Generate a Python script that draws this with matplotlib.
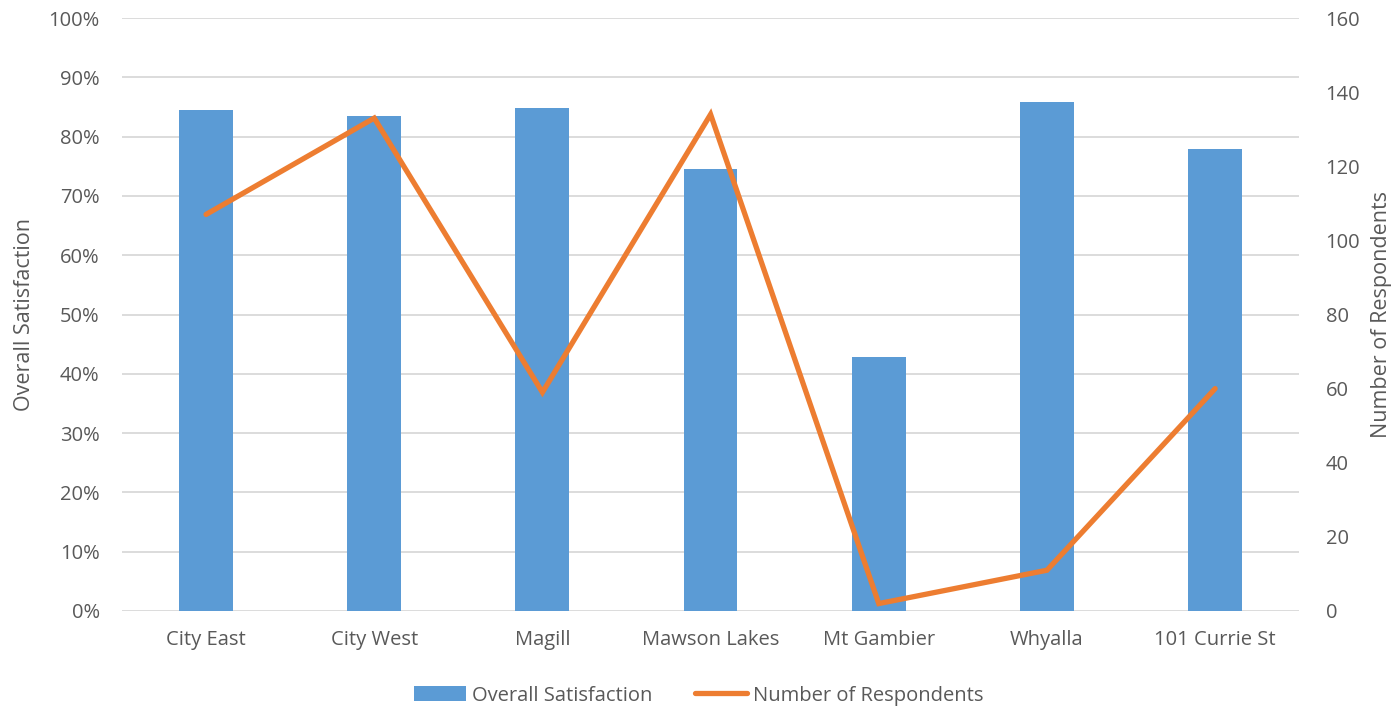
import matplotlib
matplotlib.use("Agg")
import matplotlib.pyplot as plt
from matplotlib.patches import Patch
from matplotlib.lines import Line2D
from matplotlib.ticker import FuncFormatter

campuses = ["City East", "City West", "Magill", "Mawson Lakes", "Mt Gambier", "Whyalla", "101 Currie St"]
satisfaction = [0.845, 0.834, 0.848, 0.745, 0.429, 0.858, 0.779]
respondents = [107, 133, 59, 134, 2, 11, 60]

BAR_COLOR = "#5B9BD5"
LINE_COLOR = "#ED7D31"
TEXT_COLOR = "#595959"
GRID_COLOR = "#D9D9D9"

plt.rcParams["font.family"] = ["Open Sans", "DejaVu Sans"]

fig = plt.figure(figsize=(13.97, 7.07), dpi=100)
ax = fig.add_axes([0.0873, 0.1358, 0.8427, 0.8387])
ax2 = ax.twinx()

x = list(range(len(campuses)))
ax.bar(x, satisfaction, width=0.32, color=BAR_COLOR, zorder=2)
ax2.plot(x, respondents, color=LINE_COLOR, linewidth=3.8, solid_capstyle="round",
         solid_joinstyle="miter", zorder=3)

ax.set_xlim(-0.5, len(campuses) - 0.5)
ax.set_ylim(0, 1.0)
ax.set_yticks([i / 10 for i in range(11)])
ax.yaxis.set_major_formatter(FuncFormatter(lambda v, _: f"{v * 100:.0f}%"))
ax2.set_ylim(0, 160)
ax2.set_yticks(range(0, 161, 20))

ax.set_xticks(x)
ax.set_xticklabels(campuses)

ax.grid(axis="y", color=GRID_COLOR, linewidth=1.3, zorder=0)
ax.set_axisbelow(True)
for a in (ax, ax2):
    for s in a.spines.values():
        s.set_visible(False)
    a.tick_params(length=0, labelsize=14.5, colors=TEXT_COLOR)
ax.tick_params(axis="y", pad=16)
ax.tick_params(axis="x", pad=14)
ax2.tick_params(axis="y", pad=19)

label_font = dict(family=["Open Sans", "DejaVu Sans"], size=15.5, color=TEXT_COLOR)
ax.set_ylabel("Overall Satisfaction", labelpad=10, **label_font)
ax2.set_ylabel("Number of Respondents", labelpad=8, **label_font)

handles = [
    Patch(facecolor=BAR_COLOR, edgecolor="none"),
    Line2D([0], [0], color=LINE_COLOR, linewidth=3.8, solid_capstyle="round"),
]
fig.legend(handles, ["Overall Satisfaction", "Number of Respondents"],
           loc="center", bbox_to_anchor=(0.5, 0.016), ncol=2, frameon=False,
           fontsize=14.5, labelcolor=TEXT_COLOR, handlelength=2.6, handleheight=0.8,
           handletextpad=0.3, columnspacing=2.1)

fig.savefig("out.png", dpi=100)
